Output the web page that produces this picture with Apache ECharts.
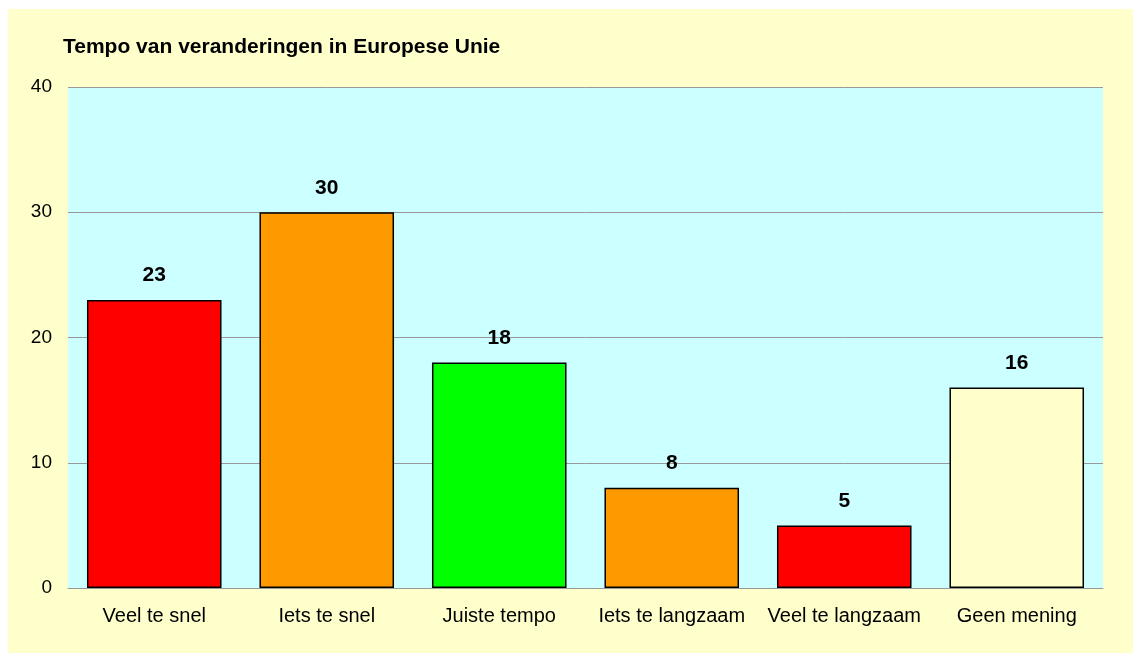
<!DOCTYPE html>
<html>
<head>
<meta charset="utf-8">
<script src="https://cdn.jsdelivr.net/npm/echarts@6/dist/echarts.min.js"></script>
<style>
  body { margin: 0; background: #ffffff; }
  #chart { position: absolute; left: 8px; top: 9px; width: 1125px; height: 644px; }
</style>
</head>
<body>
<div id="chart"></div>
<script>
// categorieën en waarden
const categories = ['Veel te snel', 'Iets te snel', 'Juiste tempo', 'Iets te langzaam', 'Veel te langzaam', 'Geen mening'];
const values = [23, 30, 18, 8, 5, 16];
const barColors = ['#FF0000', '#FF9900', '#00FF00', '#FF9900', '#FF0000', '#FFFFCC'];
const yTicks = [0, 10, 20, 30, 40];

const myChart = echarts.init(document.getElementById('chart'));
const option = {
  backgroundColor: '#FFFFCC',
  animation: false,
  textStyle: { fontFamily: 'Liberation Sans, Arial, sans-serif' },
  title: {
    text: 'Tempo van veranderingen in Europese Unie',
    left: 50,
    top: 23,
    textStyle: { fontSize: 21, fontWeight: 'bold', color: '#000' }
  },
  grid: {
    left: 60,
    right: 30,
    top: 78,
    bottom: 65,
    show: true,
    backgroundColor: '#CCFFFF',
    borderWidth: 0
  },
  xAxis: {
    type: 'category',
    data: categories,
    axisTick: { show: false },
    axisLine: { lineStyle: { color: '#999999', width: 1 } },
    axisLabel: { color: '#000', fontSize: 20, margin: 18, interval: 0 }
  },
  yAxis: {
    type: 'value',
    min: yTicks[0],
    max: yTicks[yTicks.length - 1],
    interval: 10,
    axisLine: { show: false },
    axisTick: { show: false },
    axisLabel: { color: '#000', fontSize: 19, margin: 16 },
    splitLine: { lineStyle: { color: '#999999', width: 1 } }
  },
  series: [
    {
      type: 'bar',
      barCategoryGap: '22%',
      data: values.map((v, i) => ({
        value: v,
        itemStyle: { color: barColors[i] }
      })),
      itemStyle: { borderColor: '#000', borderWidth: 1.5 },
      label: {
        show: true,
        position: 'top',
        distance: 14,
        color: '#000',
        fontSize: 21,
        fontWeight: 'bold'
      }
    }
  ]
};
myChart.setOption(option);
</script>
</body>
</html>
